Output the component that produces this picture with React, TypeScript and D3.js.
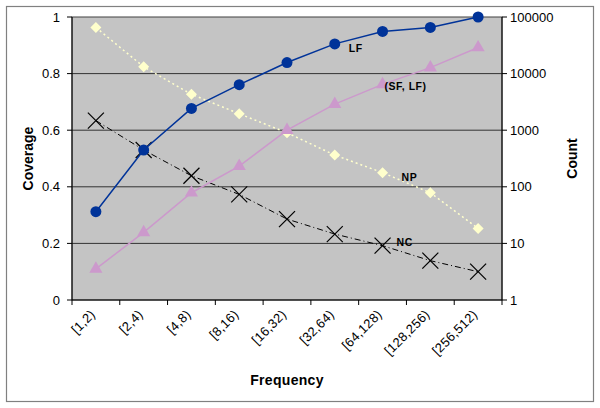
import React from "react";
import * as d3 from "d3";

const categories = ["[1,2)", "[2,4)", "[4,8)", "[8,16)", "[16,32)", "[32,64)", "[64,128)", "[128,256)", "[256,512)"];
const lfValues = [0.312, 0.53, 0.677, 0.761, 0.839, 0.905, 0.949, 0.963, 1.0];
const sflfValues = [0.11, 0.239, 0.379, 0.473, 0.6, 0.692, 0.762, 0.821, 0.892];
const npValues = [0.963, 0.824, 0.727, 0.658, 0.591, 0.512, 0.45, 0.379, 0.253];
const ncValues = [0.634, 0.53, 0.439, 0.373, 0.286, 0.233, 0.192, 0.139, 0.1];
const leftTicks = [0, 0.2, 0.4, 0.6, 0.8, 1];
const rightTicks = [1, 10, 100, 1000, 10000, 100000];

const W = 600, H = 408;
const M = { left: 72, right: 98, top: 17, bottom: 108 };
const font = "Arial, 'Liberation Sans', sans-serif";

export default function App() {
  const pw = W - M.left - M.right;
  const ph = H - M.top - M.bottom;
  const x = d3.scaleBand<string>().domain(categories).range([M.left, M.left + pw]);
  const y = d3.scaleLinear().domain([0, 1]).range([M.top + ph, M.top]);
  const yr = d3.scaleLog().domain([1, 100000]).range([M.top + ph, M.top]);
  const cx = (i: number) => (x(categories[i]) as number) + x.bandwidth() / 2;
  const line = (vals: number[]) =>
    d3.line<number>().x((_, i) => cx(i)).y((v) => y(v))(vals) as string;

  const tri = d3.symbol().type(d3.symbolTriangle).size(75)() as string;
  const dia = "M0,-5.5L5.5,0L0,5.5L-5.5,0Z";

  return (
    <svg width={W} height={H} style={{ position: "absolute", left: 0, top: 0 }} fontFamily={font}>
      <rect x={0} y={0} width={W} height={H} fill="#fff" />
      <rect x={6.5} y={6.5} width={587} height={395} fill="#fff" stroke="#808080" strokeWidth={1.2} />
      <rect x={M.left} y={M.top} width={pw} height={ph} fill="#c4c4c4" stroke="#404040" strokeWidth={1} />
      {leftTicks.slice(1, -1).map((t) => (
        <line key={t} x1={M.left} x2={M.left + pw} y1={y(t)} y2={y(t)} stroke="#333" strokeWidth={1} />
      ))}
      {/* left axis */}
      <line x1={M.left} x2={M.left} y1={M.top} y2={M.top + ph} stroke="#000" />
      {leftTicks.map((t) => (
        <g key={t}>
          <line x1={M.left - 5} x2={M.left} y1={y(t)} y2={y(t)} stroke="#000" />
          <text x={M.left - 12} y={y(t)} dy="0.35em" textAnchor="end" fontSize={13}>{d3.format("")(t)}</text>
        </g>
      ))}
      {/* right axis */}
      <line x1={M.left + pw} x2={M.left + pw} y1={M.top} y2={M.top + ph} stroke="#000" />
      {rightTicks.map((t) => (
        <g key={t}>
          <line x1={M.left + pw} x2={M.left + pw + 5} y1={yr(t)} y2={yr(t)} stroke="#000" />
          <text x={M.left + pw + 8} y={yr(t)} dy="0.35em" fontSize={13}>{t}</text>
        </g>
      ))}
      {/* bottom axis */}
      <line x1={M.left} x2={M.left + pw} y1={M.top + ph} y2={M.top + ph} stroke="#000" />
      {categories.map((c, i) => (
        <g key={c}>
          <line x1={x(c) as number} x2={x(c) as number} y1={M.top + ph} y2={M.top + ph + 5} stroke="#000" />
          <text
            transform={`translate(${cx(i) - 3},${M.top + ph + 12}) rotate(-45)`}
            textAnchor="end"
            dy="0.35em"
            fontSize={13}
            letterSpacing={0.3}
          >{c}</text>
        </g>
      ))}
      <line x1={M.left + pw} x2={M.left + pw} y1={M.top + ph} y2={M.top + ph + 5} stroke="#000" />
      {/* axis titles */}
      <text transform={`translate(33,${M.top + ph / 2}) rotate(-90)`} textAnchor="middle" fontSize={14} fontWeight="bold">Coverage</text>
      <text transform={`translate(577,${M.top + ph / 2}) rotate(-90)`} textAnchor="middle" fontSize={14} fontWeight="bold">Count</text>
      <text x={M.left + pw / 2} y={385} textAnchor="middle" fontSize={14} fontWeight="bold" letterSpacing={0.3}>Frequency</text>

      {/* NP dotted yellow */}
      <path d={line(npValues)} fill="none" stroke="#ffffcc" strokeWidth={1.5} strokeDasharray="2,3" />
      {npValues.map((v, i) => (
        <path key={i} d={dia} transform={`translate(${cx(i)},${y(v)})`} fill="#ffffcc" />
      ))}
      {/* NC dash-dot black */}
      <path d={line(ncValues)} fill="none" stroke="#000" strokeWidth={1} strokeDasharray="6,3,1,3" />
      {ncValues.map((v, i) => (
        <g key={i} transform={`translate(${cx(i)},${y(v)})`} stroke="#000" strokeWidth={1.2}>
          <line x1={-8} y1={-8} x2={8} y2={8} />
          <line x1={-8} y1={8} x2={8} y2={-8} />
        </g>
      ))}
      {/* SF,LF pink */}
      <path d={line(sflfValues)} fill="none" stroke="#cc99cc" strokeWidth={1.5} />
      {sflfValues.map((v, i) => (
        <path key={i} d={tri} transform={`translate(${cx(i)},${y(v)})`} fill="#cc99cc" />
      ))}
      {/* LF blue */}
      <path d={line(lfValues)} fill="none" stroke="#003399" strokeWidth={1.5} />
      {lfValues.map((v, i) => (
        <circle key={i} cx={cx(i)} cy={y(v)} r={5.5} fill="#003399" />
      ))}

      {/* series labels */}
      <g fontSize={10.5} fontWeight="bold" letterSpacing={0.5}>
        <text x={cx(5) + 14} y={y(lfValues[5]) + 4} dy="0.35em">LF</text>
        <text x={cx(6) + 2} y={y(sflfValues[6]) + 2} dy="0.35em">(SF, LF)</text>
        <text x={cx(6) + 19} y={y(npValues[6]) + 5} dy="0.35em">NP</text>
        <text x={cx(6) + 14} y={y(ncValues[6]) - 3} dy="0.35em">NC</text>
      </g>
    </svg>
  );
}
